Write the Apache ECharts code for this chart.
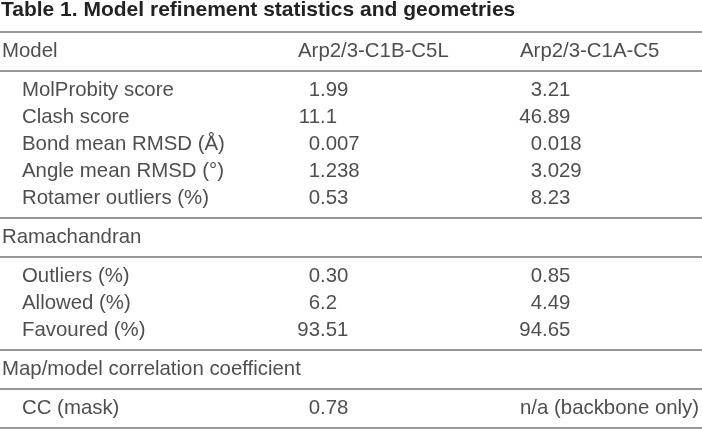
<!DOCTYPE html>
<html>
<head>
<meta charset="utf-8">
<script src="https://cdn.jsdelivr.net/npm/echarts@6/dist/echarts.min.js"></script>
<style>
html,body{margin:0;padding:0;background:#fff;}
#chart{width:702px;height:429px;}
</style>
</head>
<body>
<div id="chart"></div>
<script>
// ---- Data (text content of the table) ----
const tableTitle = 'Table 1. Model refinement statistics and geometries';
const columnHeaders = ['Model', 'Arp2/3-C1B-C5L', 'Arp2/3-C1A-C5'];
const geometryRows = ['MolProbity score', 'Clash score', 'Bond mean RMSD (Å)', 'Angle mean RMSD (°)', 'Rotamer outliers (%)'];
const geometryC1B = ['1.99', '11.1', '0.007', '1.238', '0.53'];
const geometryC1A = ['3.21', '46.89', '0.018', '3.029', '8.23'];
const ramaTitle = 'Ramachandran';
const ramaRows = ['Outliers (%)', 'Allowed (%)', 'Favoured (%)'];
const ramaC1B = ['0.30', '6.2', '93.51'];
const ramaC1A = ['0.85', '4.49', '94.65'];
const mapTitle = 'Map/model correlation coefficient';
const mapRows = ['CC (mask)'];
const mapC1B = ['0.78'];
const mapC1A = ['n/a (backbone only)'];

// ---- Layout / style constants ----
const W = 702, H = 429;
const FONT = '"Liberation Sans", Arial, Helvetica, sans-serif';
const TEXT_COLOR = '#222222';
const RULE_COLOR = '#767676';
const FONT_SIZE = 20.4;
const TITLE_SIZE = 21;
const TOP_RULE = 32, HALF = 19.5, PITCH = 27;
const X_LABEL = 2, X_INDENT = 22;
const X_COLS = [298, 520];
const DEC_OFFSET = 22;

// blocks: each block is bounded by rules above and below
const blocks = [
  { rows: [[columnHeaders[0], columnHeaders[1], columnHeaders[2]]], indent: false, header: true },
  { rows: geometryRows.map((r, i) => [r, geometryC1B[i], geometryC1A[i]]), indent: true },
  { rows: [[ramaTitle]], indent: false },
  { rows: ramaRows.map((r, i) => [r, ramaC1B[i], ramaC1A[i]]), indent: true },
  { rows: [[mapTitle]], indent: false },
  { rows: mapRows.map((r, i) => [r, mapC1B[i], mapC1A[i]]), indent: true }
];

const leftCells = [], intCells = [], rules = [TOP_RULE];
let y = TOP_RULE;
blocks.forEach(b => {
  y += HALF;
  b.rows.forEach((row, ri) => {
    if (ri > 0) y += PITCH;
    leftCells.push({ name: row[0], value: [b.indent ? X_INDENT : X_LABEL, y] });
    for (let c = 1; c < row.length; c++) {
      const txt = row[c];
      const xc = X_COLS[c - 1];
      if (!b.header && /^\d+(\.\d+)?$/.test(txt)) {
        const parts = txt.split('.');
        const xd = xc + DEC_OFFSET;
        intCells.push({ name: parts[0], value: [xd, y] });
        if (parts.length > 1) leftCells.push({ name: '.' + parts[1], value: [xd, y] });
      } else {
        leftCells.push({ name: txt, value: [xc, y] });
      }
    }
  });
  y += HALF;
  rules.push(y);
});

const labelStyle = { show: true, distance: 0, formatter: '{b}', color: TEXT_COLOR, fontSize: FONT_SIZE, fontFamily: FONT };

const chart = echarts.init(document.getElementById('chart'), null, { renderer: 'canvas' });
chart.setOption({
  animation: false,
  backgroundColor: '#ffffff',
  title: {
    text: tableTitle, left: 1, top: 0, padding: 0,
    textStyle: { fontFamily: FONT, fontWeight: 'bold', fontSize: TITLE_SIZE, color: TEXT_COLOR, lineHeight: 20 }
  },
  grid: { left: 0, right: 0, top: 0, bottom: 0 },
  xAxis: { type: 'value', min: 0, max: W, show: false },
  yAxis: { type: 'value', min: 0, max: H, inverse: true, show: false },
  series: [
    {
      type: 'scatter', symbolSize: 0, silent: true,
      data: leftCells,
      label: Object.assign({ position: 'right' }, labelStyle),
      emphasis: { disabled: true },
      markLine: {
        silent: true, symbol: ['none', 'none'], label: { show: false },
        lineStyle: { color: RULE_COLOR, width: 1.7, type: 'solid' },
        data: rules.map(v => ({ yAxis: v }))
      }
    },
    {
      type: 'scatter', symbolSize: 0, silent: true,
      data: intCells,
      label: Object.assign({ position: 'left' }, labelStyle),
      emphasis: { disabled: true }
    }
  ]
});
</script>
</body>
</html>
